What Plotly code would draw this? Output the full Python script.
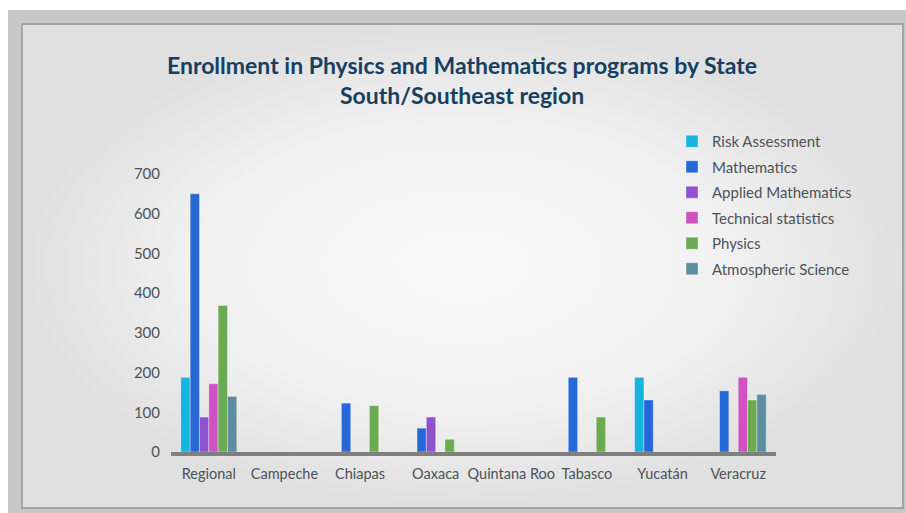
import plotly.graph_objects as go

# Enrollment by state, South/Southeast region
states = ["Regional", "Campeche", "Chiapas", "Oaxaca", "Quintana Roo",
          "Tabasco", "Yucatán", "Veracruz"]

risk_assessment = [188, None, None, None, None, None, 188, None]
mathematics = [650, None, 123, 60, None, 188, 131, 154]
applied_mathematics = [88, None, None, 88, None, None, None, None]
technical_statistics = [172, None, None, None, None, None, None, 188]
physics = [369, None, 117, 32, None, 88, None, 131]
atmospheric_science = [140, None, None, None, None, None, None, 145]

series_names = ["Risk Assessment", "Mathematics", "Applied Mathematics",
                "Technical statistics", "Physics", "Atmospheric Science"]
series_values = [risk_assessment, mathematics, applied_mathematics,
                 technical_statistics, physics, atmospheric_science]
series_colors = ["#14b4dd", "#2569d9", "#8e52cf", "#cf52c2", "#6aab52", "#5e8e9e"]

y_ticks = [0, 100, 200, 300, 400, 500, 600, 700]

W, H = 906, 513
FONT = "Lato"
TEXT = "#4d5358"


def px_x(p):
    return p / W


def px_y(p):
    return 1 - p / H


fig = go.Figure()

# soft vignette behind the chart panel (base subplot in pixel units)
px0, px1, py0, py1 = 24, 901, 26, 506
fig.add_trace(go.Scatter(
    x=[px0, px1, px1, px0, px0], y=[py0, py0, py1, py1, py0],
    mode="lines", fill="toself", line=dict(width=0),
    fillgradient=dict(type="radial",
                      colorscale=[[0, "#fafafa"], [0.6, "#f1f1f1"], [1, "#e0e0e0"]]),
    hoverinfo="skip", showlegend=False, xaxis="x", yaxis="y",
))

for i, (name, vals, col) in enumerate(zip(series_names, series_values, series_colors)):
    fig.add_trace(go.Bar(
        x=states, y=vals, name=name, legendgroup=f"g{i}",
        marker=dict(color=col, line=dict(color="rgba(255,255,255,0.35)", width=1)),
        xaxis="x2", yaxis="y2",
    ))

fig.update_layout(
    width=W, height=H, autosize=False,
    margin=dict(l=0, r=0, t=0, b=0, pad=0, autoexpand=False),
    paper_bgcolor="#ffffff",
    plot_bgcolor="rgba(0,0,0,0)",
    barmode="group", bargap=0.26, bargroupgap=0,
    font=dict(family=FONT, color=TEXT, size=15),
    title=dict(
        text="Enrollment in Physics and Mathematics programs by State<br>South/Southeast region",
        x=px_x(462), xanchor="center", xref="container",
        y=px_y(74), yanchor="middle", yref="container",
        font=dict(family=FONT, size=23, color="#173f5f", weight="bold"),
    ),
    xaxis=dict(domain=[0, 1], range=[0, W], visible=False, fixedrange=True),
    yaxis=dict(domain=[0, 1], range=[H, 0], visible=False, fixedrange=True),
    xaxis2=dict(
        domain=[px_x(171), px_x(776)], anchor="y2",
        showline=True, linecolor="#7f7f7f", linewidth=4,
        showgrid=False, ticks="", ticklabelstandoff=6,
        tickfont=dict(family=FONT, size=14.5, color=TEXT),
    ),
    yaxis2=dict(
        domain=[px_y(452), px_y(174)], anchor="x2",
        range=[0, 700], tickvals=y_ticks,
        showgrid=False, zeroline=False, showline=False, ticks="",
        ticklabelstandoff=10,
        tickfont=dict(family=FONT, size=15, color=TEXT),
    ),
    legend=dict(
        x=px_x(672), xanchor="left", y=px_y(125), yanchor="top",
        traceorder="grouped", tracegroupgap=3,
        bgcolor="rgba(0,0,0,0)",
        font=dict(family=FONT, size=15, color=TEXT),
    ),
    shapes=[
        # grey frame around the panel
        dict(type="rect", xref="x", yref="y", x0=8, x1=W, y0=10, y1=H,
             fillcolor="#c8c8c8", line=dict(width=0), layer="below"),
        dict(type="rect", xref="x", yref="y", x0=22, x1=903, y0=24, y1=508,
             fillcolor="#e4e4e4", line=dict(color="#a4a4a4", width=2), layer="below"),
    ],
)

fig.write_html("out.html")
